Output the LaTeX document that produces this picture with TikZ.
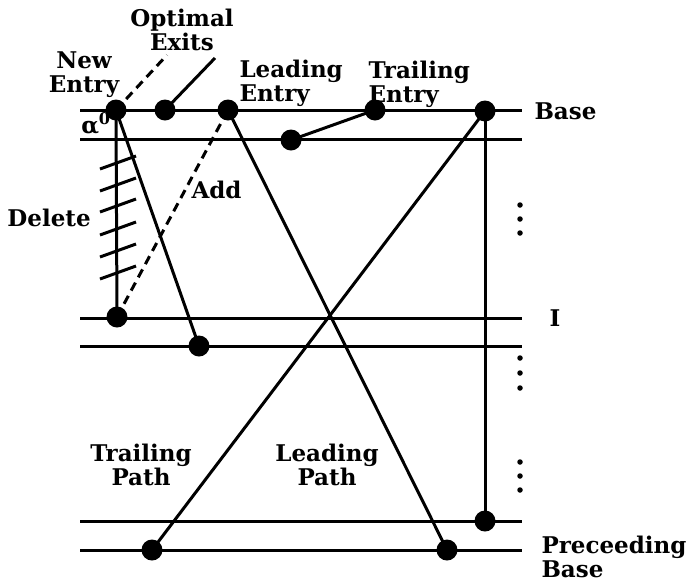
\documentclass[tikz,border=0pt]{standalone}
\usepackage{fontspec}
\setmainfont{DejaVu Serif}
\begin{document}
\begin{tikzpicture}[x=1pt, y=-1pt, line width=3pt,
  dot/.style={circle, fill, inner sep=0pt, minimum size=21pt},
  lbl/.style={font=\fontsize{23}{24}\selectfont\bfseries, inner sep=0pt},
  vdot/.style={circle, fill, inner sep=0pt, minimum size=5.5pt}]
\fill[white] (0,0) rectangle (694,582);
\useasboundingbox (0,0) rectangle (694,582);
% levels
\foreach \y/\n in {110/base, 139/second, 318/ilev, 346/below, 521/upper, 550/prec} {
  \coordinate (\n-w) at (80,\y);
  \coordinate (\n-e) at (522,\y);
  \draw (\n-w) -- (\n-e);
}
% entries and exits
\node[dot] (new) at (116,110) {};
\node[dot] (exit) at (165,110) {};
\node[dot] (lead) at (228,110) {};
\node[dot] (low) at (291,140) {};
\node[dot] (trail) at (375,110) {};
\node[dot] (top) at (485,111) {};
\node[dot] (idot) at (117,317) {};
\node[dot] (bdot) at (199,346) {};
\node[dot] (rdot) at (485,521) {};
\node[dot] (ldot) at (152,550) {};
\node[dot] (pdot) at (447,550) {};
% labels
\node[lbl, align=center] (newlbl) at (84,75) {New\\Entry};
\node[lbl, align=center] (optlbl) at (182,30) {Optimal\\Exits};
\node[lbl, align=left, anchor=north west] (leadlbl) at (238,59) {Leading\\Entry};
\node[lbl, align=left, anchor=north west] (traillbl) at (367,60) {Trailing\\Entry};
\node[lbl] (alfa) at (96,123) {α\textsuperscript{0}};
\node[lbl, anchor=west] (baselbl) at (533,111) {Base};
\node[lbl, anchor=west] (addlbl) at (190,190) {Add};
\node[lbl, anchor=west] (dellbl) at (6,218) {Delete};
\node[lbl, anchor=west] (ilbl) at (548,318) {I};
\node[lbl, align=center] (tpath) at (141,465) {Trailing\\Path};
\node[lbl, align=center] (lpath) at (327,465) {Leading\\Path};
\node[lbl, align=left, anchor=north west] (preclbl) at (540,535) {Preceeding\\Base};
% pointers to the labels
\coordinate (optend) at (167,55);
\coordinate (exitend) at (215,58);
\draw[dashed, dash pattern=on 9pt off 6pt] (new.center) -- (optend);
\draw (exit.center) -- (exitend);
% delete and add
\draw (new.center) -- (idot.center);
\foreach \y in {169,191,212,235,257,279}
  \draw (100,\y) -- (136,\y-13);
\draw[dashed, dash pattern=on 9pt off 6pt] (idot.center) -- (lead.center);
\draw (new.center) -- (bdot.center);
\draw (low.center) -- (trail.center);
% paths
\draw (lead.center) -- (pdot.center);
\draw (top.center) -- (ldot.center);
\draw (top.center) -- (rdot.center);
% more levels
\foreach \y in {205,219,233,358,373,388,462,476,490}
  \node[vdot] at (520,\y) {};
\end{tikzpicture}
\end{document}
